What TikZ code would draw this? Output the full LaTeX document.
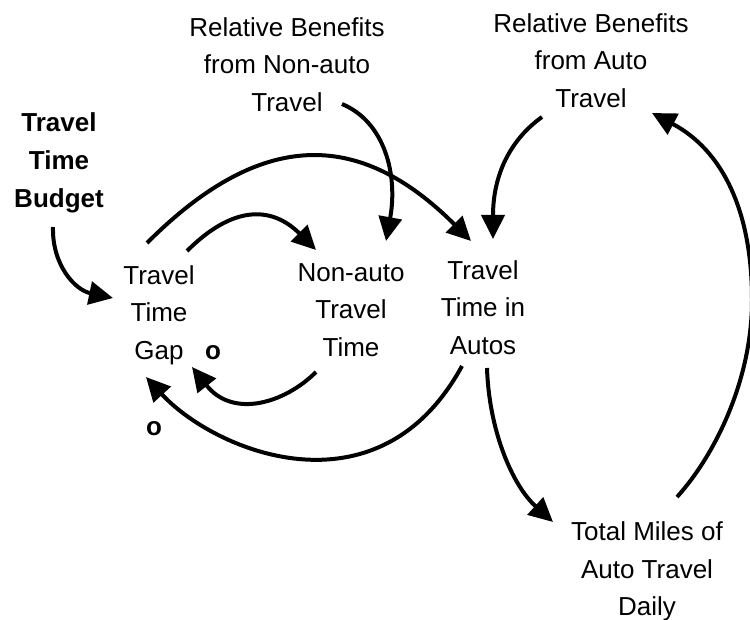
\documentclass[tikz,border=0pt]{standalone}
\usepackage{fontspec}
\setmainfont{Liberation Sans}
\usetikzlibrary{arrows.meta}
\begin{document}
\begin{tikzpicture}[x=1pt,y=-1pt,
  lbl/.style={align=center, inner sep=0pt, font=\fontsize{26}{37.5}\selectfont},
  lblb/.style={lbl, font=\fontsize{26}{38}\selectfont\bfseries},
  pol/.style={inner sep=0pt, font=\fontsize{26}{30}\selectfont\bfseries},
  link/.style={line width=4pt, line cap=butt, -{Triangle[length=24pt,width=23pt]}}]
\useasboundingbox (0,0) rectangle (750,620);

% variables
\node[lblb] (budget) at (59,161.5) {\strut Travel\\\strut Time\\\strut Budget};
\node[lbl] (rbn) at (287,66.5) {\strut Relative Benefits\\\strut from Non-auto\\\strut Travel};
\node[lbl] (rba) at (591,62.5) {\strut Relative Benefits\\\strut from Auto\\\strut Travel};
\node[lbl] (gap) at (159,314.5) {\strut Travel\\\strut Time\\\strut Gap};
\node[lbl] (nat) at (351,311.5) {\strut Non-auto\\\strut Travel\\\strut Time};
\node[lbl] (tta) at (483,309.5) {\strut Travel\\\strut Time in\\\strut Autos};
\node[lbl] (tmd) at (647,570.5) {\strut Total Miles of\\\strut Auto Travel\\\strut Daily};

% polarity labels
\node[pol] (o1) at (213,353) {o};
\node[pol] (o2) at (154,429) {o};

% connector end points
\coordinate (budgetS) at (53,227);
\coordinate (gapW) at (113,298);
\coordinate (gapNa) at (147,243);
\coordinate (gapNb) at (187,251);
\coordinate (ttaN) at (471,241);
\coordinate (natN) at (316,250);
\coordinate (natS) at (316,372);
\coordinate (gapE) at (192,367);
\coordinate (ttaS) at (462,366);
\coordinate (gapS) at (146,377);
\coordinate (rbnE) at (342,104);
\coordinate (natNe) at (386,241);
\coordinate (rbaW) at (542,117);
\coordinate (ttaNe) at (493,239);
\coordinate (ttaSe) at (487,368);
\coordinate (tmdN) at (553,522);
\coordinate (tmdE) at (677,497);
\coordinate (rbaE) at (652,113);

% connectors
\draw[link] (budgetS) .. controls (52,265) and (75,290) .. (gapW);
\draw[link] (gapNa) .. controls (260,130) and (358,128) .. (ttaN);
\draw[link] (gapNb) .. controls (232,206) and (271,205) .. (natN);
\draw[link] (natS) .. controls (285,403) and (233,419) .. (gapE);
\draw[link] (ttaS) .. controls (378,520) and (214,451) .. (gapS);
\draw[link] (rbnE) .. controls (385,122) and (398,175) .. (natNe);
\draw[link] (rbaW) .. controls (510,140) and (493,175) .. (ttaNe);
\draw[link] (ttaSe) .. controls (489,430) and (512,485) .. (tmdN);
\draw[link] (tmdE) .. controls (715,455) and (752,380) .. (752,300)
                   .. controls (752,210) and (722,150) .. (rbaE);
\end{tikzpicture}
\end{document}
